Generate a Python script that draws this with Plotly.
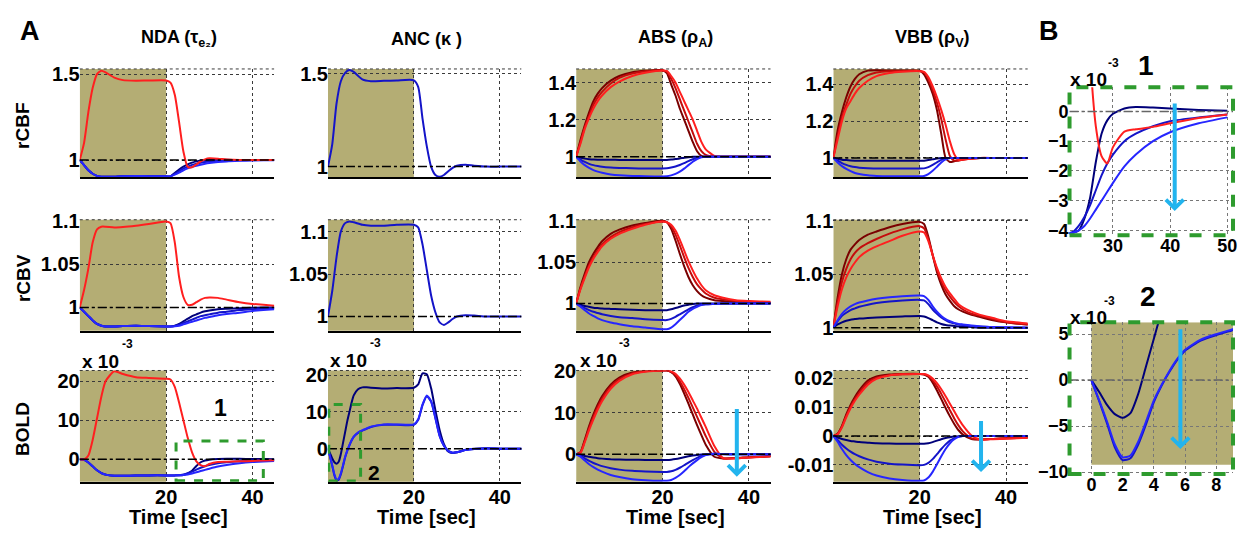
import plotly.graph_objects as go

W, H = 1241, 537

# ---------------- data ----------------
T = [0, 1, 2, 3, 4, 5, 6, 8, 10, 13, 16, 20, 21, 22, 23, 24, 25, 26, 27, 28, 29, 30, 32, 34, 37, 40, 45, 50]
TA = [0, 0.5, 1, 1.5, 2, 2.5, 3, 3.5, 4, 4.5, 5, 5.5, 6, 7, 8, 9, 10, 13, 16, 20, 21, 22, 23, 24, 25, 26, 27, 28, 29, 30, 32, 34, 37, 40, 45, 50]

# NDA
NDA_CBF_RED = [1.0, 1.1, 1.28, 1.42, 1.5, 1.52, 1.51, 1.48, 1.465, 1.462, 1.463, 1.463, 1.45, 1.38, 1.22, 1.05, 0.96, 0.958, 0.975, 0.992, 1.004, 1.01, 1.008, 1.003, 1.0, 1.0, 1.0, 1.0]
NDA_CBF_NAVY = [1.0, 0.97, 0.94, 0.92, 0.908, 0.903, 0.902, 0.903, 0.906, 0.907, 0.906, 0.905, 0.905, 0.925, 0.945, 0.962, 0.975, 0.985, 0.992, 0.997, 1.0, 1.002, 1.002, 1.001, 1.0, 1.0, 1.0, 1.0]
NDA_CBF_MED = [1.0, 0.97, 0.94, 0.92, 0.908, 0.903, 0.902, 0.903, 0.906, 0.907, 0.906, 0.905, 0.905, 0.92, 0.935, 0.95, 0.962, 0.972, 0.979, 0.984, 0.988, 0.991, 0.995, 0.997, 0.999, 1.0, 1.0, 1.0]
NDA_CBF_BLUE = [1.0, 0.97, 0.94, 0.92, 0.908, 0.903, 0.902, 0.903, 0.906, 0.907, 0.906, 0.905, 0.905, 0.915, 0.927, 0.94, 0.951, 0.96, 0.967, 0.973, 0.978, 0.982, 0.988, 0.992, 0.995, 0.997, 0.999, 1.0]

NDA_CBV_RED = [1.0, 1.02, 1.045, 1.075, 1.09, 1.093, 1.093, 1.092, 1.0925, 1.094, 1.096, 1.099, 1.097, 1.075, 1.035, 1.012, 1.003, 1.003, 1.006, 1.009, 1.011, 1.0115, 1.011, 1.009, 1.006, 1.004, 1.002, 1.001]
NDA_CBV_NAVY = [1.0, 0.995, 0.99, 0.985, 0.981, 0.979, 0.978, 0.978, 0.9785, 0.979, 0.9785, 0.978, 0.978, 0.979, 0.981, 0.984, 0.987, 0.99, 0.992, 0.994, 0.9955, 0.9965, 0.998, 0.9985, 0.999, 0.9995, 1.0, 1.0]
NDA_CBV_MED = [1.0, 0.995, 0.99, 0.985, 0.981, 0.979, 0.978, 0.978, 0.9785, 0.979, 0.9785, 0.978, 0.978, 0.9785, 0.98, 0.982, 0.984, 0.986, 0.988, 0.99, 0.991, 0.992, 0.994, 0.995, 0.997, 0.998, 0.999, 1.0]
NDA_CBV_BLUE = [1.0, 0.995, 0.99, 0.985, 0.981, 0.979, 0.978, 0.978, 0.9785, 0.979, 0.9785, 0.978, 0.978, 0.9783, 0.979, 0.9805, 0.982, 0.9835, 0.985, 0.9865, 0.988, 0.989, 0.991, 0.9925, 0.994, 0.996, 0.998, 0.999]

NDA_BOLD_RED = [0, 0, 1, 5, 10.5, 16, 20, 22.5, 21.8, 21, 20.8, 20.6, 20.4, 18.5, 14.5, 10, 5.5, 1.8, -0.5, -1.5, -1.75, -1.2, -0.68, -0.6, -0.52, -0.4, -0.22, -0.1]
NDA_BOLD_NAVY = [0, -0.1, -0.8, -1.8, -2.8, -3.5, -3.9, -4.2, -4.2, -4.15, -4.1, -4.1, -4.1, -4.1, -4.08, -4.0, -3.6, -2.9, -1.7, -0.75, -0.3, -0.08, 0.1, 0.15, 0.13, 0.1, 0.05, 0.02]
NDA_BOLD_MED = [0, -0.1, -0.8, -1.8, -2.8, -3.5, -3.9, -4.2, -4.2, -4.15, -4.1, -4.1, -4.1, -4.1, -4.05, -3.85, -3.55, -3.15, -2.65, -2.15, -1.75, -1.45, -1.0, -0.75, -0.5, -0.33, -0.2, -0.1]
NDA_BOLD_BLUE = [0, -0.1, -0.8, -1.8, -2.8, -3.5, -3.9, -4.2, -4.2, -4.15, -4.1, -4.1, -4.1, -4.1, -4.08, -4.0, -3.85, -3.6, -3.3, -3.0, -2.7, -2.4, -1.85, -1.45, -1.0, -0.7, -0.4, -0.2]

# ANC
ANC_CBF_BLUE = [1.0, 1.12, 1.34, 1.46, 1.505, 1.52, 1.51, 1.47, 1.46, 1.462, 1.464, 1.465, 1.43, 1.26, 1.11, 1.0, 0.955, 0.945, 0.955, 0.975, 0.993, 1.005, 1.01, 1.005, 1.0, 1.0, 1.0, 1.0]
ANC_CBV_BLUE = [1.0, 1.03, 1.07, 1.1, 1.11, 1.112, 1.111, 1.108, 1.107, 1.107, 1.108, 1.108, 1.105, 1.085, 1.055, 1.025, 1.005, 0.993, 0.99, 0.993, 0.997, 1.0, 1.0015, 1.001, 1.0, 1.0, 1.0, 1.0]
ANC_BOLD_NAVY = [0, -1.3, -2.7, -3.7, -4.1, -3.6, -1.5, 1.5, 4.5, 7.5, 10, 12.5, 14.5, 16.2, 16.7, 16.7, 16.6, 16.4, 16.5, 16.6, 17.5, 20.5, 20.3, 16.5, 10.5, 5, 1.2, -0.8, -1.2, -1.0, -0.3, 0, 0.1, 0, 0, 0]
ANC_BOLD_MED = [0, -2.3, -4.7, -7.3, -8.7, -8.5, -7.0, -4.8, -2.4, -0.6, 0.9, 2.2, 3.2, 4.3, 4.9, 5.4, 5.9, 6.5, 6.5, 6.5, 7.8, 11.8, 14.3, 12.8, 8.3, 3.4, 0.7, -0.6, -1.1, -1.0, -0.4, -0.1, 0.05, 0, 0, 0]
ANC_BOLD_BLUE = [0, -2.2, -4.5, -7, -8.4, -8.2, -6.7, -4.5, -2.2, -0.5, 1.0, 2.3, 3.3, 4.4, 5.0, 5.5, 6.0, 6.6, 6.6, 6.6, 8, 12, 14.5, 13, 8.5, 3.5, 0.8, -0.6, -1.1, -1.0, -0.4, -0.1, 0.05, 0, 0, 0]

# ABS
ABS_CBF_DRED = [1.0, 1.09, 1.17, 1.24, 1.3, 1.34, 1.37, 1.41, 1.435, 1.455, 1.463, 1.466, 1.45, 1.39, 1.33, 1.26, 1.2, 1.14, 1.08, 1.03, 1.005, 1.0, 1.0, 1.0, 1.0, 1.0, 1.0, 1.0]
ABS_CBF_MRED = [1.0, 1.08, 1.16, 1.22, 1.28, 1.32, 1.35, 1.395, 1.425, 1.448, 1.46, 1.466, 1.458, 1.42, 1.37, 1.31, 1.25, 1.19, 1.13, 1.07, 1.03, 1.01, 1.0, 1.0, 1.0, 1.0, 1.0, 1.0]
ABS_CBF_RED = [1.0, 1.07, 1.15, 1.21, 1.26, 1.3, 1.33, 1.375, 1.405, 1.435, 1.452, 1.465, 1.462, 1.435, 1.4, 1.35, 1.3, 1.25, 1.2, 1.14, 1.08, 1.04, 1.005, 1.0, 1.0, 1.0, 1.0, 1.0]
ABS_CBF_NAVY = [1.0, 0.995, 0.99, 0.987, 0.985, 0.984, 0.984, 0.984, 0.983, 0.983, 0.983, 0.983, 0.983, 0.985, 0.988, 0.991, 0.995, 0.998, 1.0, 1.0, 1.0, 1.0, 1.0, 1.0, 1.0, 1.0, 1.0, 1.0]
ABS_CBF_MED = [1.0, 0.985, 0.972, 0.962, 0.955, 0.95, 0.946, 0.942, 0.94, 0.938, 0.937, 0.937, 0.938, 0.942, 0.948, 0.956, 0.966, 0.977, 0.987, 0.995, 0.999, 1.0, 1.0, 1.0, 1.0, 1.0, 1.0, 1.0]
ABS_CBF_BLUE = [1.0, 0.975, 0.955, 0.94, 0.928, 0.92, 0.914, 0.905, 0.9, 0.897, 0.895, 0.894, 0.895, 0.9, 0.908, 0.92, 0.936, 0.955, 0.973, 0.988, 0.997, 1.0, 1.0, 1.0, 1.0, 1.0, 1.0, 1.0]

ABS_CBV_DRED = [1.0, 1.02, 1.036, 1.05, 1.06, 1.068, 1.075, 1.084, 1.089, 1.094, 1.097, 1.1, 1.098, 1.09, 1.076, 1.06, 1.045, 1.032, 1.022, 1.015, 1.01, 1.007, 1.004, 1.003, 1.002, 1.002, 1.001, 1.001]
ABS_CBV_MRED = [1.0, 1.018, 1.033, 1.046, 1.056, 1.064, 1.071, 1.08, 1.086, 1.092, 1.096, 1.099, 1.098, 1.093, 1.083, 1.07, 1.056, 1.043, 1.032, 1.023, 1.017, 1.012, 1.007, 1.005, 1.003, 1.002, 1.001, 1.001]
ABS_CBV_RED = [1.0, 1.017, 1.031, 1.044, 1.054, 1.062, 1.069, 1.078, 1.084, 1.09, 1.095, 1.099, 1.098, 1.095, 1.088, 1.077, 1.064, 1.051, 1.04, 1.03, 1.022, 1.016, 1.01, 1.007, 1.004, 1.003, 1.002, 1.001]
ABS_CBV_NAVY = [1.0, 0.9985, 0.997, 0.996, 0.995, 0.9945, 0.994, 0.9935, 0.993, 0.9925, 0.992, 0.992, 0.992, 0.993, 0.9945, 0.996, 0.9975, 0.9985, 0.9995, 1.0, 1.0, 1.0, 1.0, 1.0, 1.0, 1.0, 1.0, 1.0]
ABS_CBV_MED = [1.0, 0.997, 0.9945, 0.992, 0.99, 0.9885, 0.987, 0.985, 0.9835, 0.9825, 0.981, 0.98, 0.98, 0.9815, 0.984, 0.987, 0.99, 0.993, 0.9955, 0.9975, 0.9985, 0.999, 0.9995, 1.0, 1.0, 1.0, 1.0, 1.0]
ABS_CBV_BLUE = [1.0, 0.996, 0.992, 0.988, 0.985, 0.982, 0.98, 0.977, 0.975, 0.9725, 0.971, 0.969, 0.969, 0.971, 0.975, 0.98, 0.985, 0.99, 0.9935, 0.996, 0.998, 0.999, 0.9995, 1.0, 1.0, 1.0, 1.0, 1.0]

ABS_BOLD_DRED = [0, 0.5, 3.5, 6.8, 9.6, 12, 14, 16.8, 18.5, 19.7, 20.1, 20.2, 20.2, 19.8, 18.8, 17.0, 14.7, 12.2, 9.6, 7.0, 4.6, 2.3, -0.6, -1.0, -0.9, -0.7, -0.5, -0.3]
ABS_BOLD_MRED = [0, 0.4, 3.2, 6.3, 9.0, 11.4, 13.4, 16.3, 18.1, 19.5, 20.0, 20.2, 20.2, 19.9, 19.1, 17.6, 15.7, 13.6, 11.3, 9.0, 6.7, 4.4, 0.6, -1.0, -0.95, -0.75, -0.5, -0.3]
ABS_BOLD_RED = [0, 0.3, 2.9, 5.8, 8.4, 10.8, 12.8, 15.8, 17.7, 19.3, 19.9, 20.2, 20.3, 20.0, 19.4, 18.3, 16.8, 15.0, 13.0, 11.0, 8.8, 6.6, 2.0, -0.9, -1.0, -0.8, -0.5, -0.3]
ABS_BOLD_NAVY = [0, -0.15, -0.4, -0.6, -0.8, -0.95, -1.05, -1.2, -1.28, -1.33, -1.36, -1.38, -1.38, -1.3, -1.15, -0.95, -0.72, -0.5, -0.3, -0.15, -0.05, 0, 0, 0, 0, 0, 0, 0]
ABS_BOLD_MED = [0, -0.4, -1.0, -1.6, -2.1, -2.5, -2.85, -3.35, -3.7, -4.0, -4.15, -4.25, -4.25, -4.1, -3.75, -3.25, -2.65, -2.0, -1.4, -0.85, -0.4, -0.1, 0.1, 0.05, 0, 0, 0, 0]
ABS_BOLD_BLUE = [0, -0.6, -1.5, -2.4, -3.1, -3.7, -4.2, -5.0, -5.5, -6.0, -6.25, -6.4, -6.4, -6.2, -5.7, -5.0, -4.1, -3.1, -2.2, -1.4, -0.7, -0.2, 0.1, 0.05, 0, 0, 0, 0]

# VBB
VBB_CBF_DRED = [1.0, 1.15, 1.25, 1.33, 1.39, 1.43, 1.455, 1.475, 1.477, 1.476, 1.475, 1.474, 1.455, 1.41, 1.35, 1.26, 1.13, 1.0, 0.978, 0.982, 0.988, 0.993, 0.998, 1.0, 1.0, 1.0, 1.0, 1.0]
VBB_CBF_MRED = [1.0, 1.12, 1.22, 1.29, 1.35, 1.39, 1.42, 1.45, 1.465, 1.472, 1.473, 1.473, 1.465, 1.43, 1.37, 1.3, 1.21, 1.1, 1.01, 0.985, 0.985, 0.99, 0.997, 1.0, 1.0, 1.0, 1.0, 1.0]
VBB_CBF_RED = [1.0, 1.1, 1.2, 1.27, 1.31, 1.35, 1.38, 1.42, 1.445, 1.462, 1.469, 1.472, 1.468, 1.44, 1.39, 1.33, 1.26, 1.18, 1.09, 1.02, 0.99, 0.99, 0.996, 1.0, 1.0, 1.0, 1.0, 1.0]
VBB_CBF_NAVY = [1.0, 0.995, 0.99, 0.988, 0.986, 0.985, 0.985, 0.985, 0.985, 0.985, 0.985, 0.985, 0.985, 0.988, 0.992, 0.996, 0.999, 1.0, 1.0, 1.0, 1.0, 1.0, 1.0, 1.0, 1.0, 1.0, 1.0, 1.0]
VBB_CBF_MED = [1.0, 0.985, 0.972, 0.962, 0.955, 0.95, 0.947, 0.944, 0.943, 0.942, 0.942, 0.942, 0.943, 0.95, 0.962, 0.976, 0.989, 0.997, 1.0, 1.0, 1.0, 1.0, 1.0, 1.0, 1.0, 1.0, 1.0, 1.0]
VBB_CBF_BLUE = [1.0, 0.975, 0.955, 0.94, 0.928, 0.918, 0.912, 0.905, 0.902, 0.9, 0.9, 0.9, 0.902, 0.912, 0.93, 0.952, 0.975, 0.992, 0.999, 1.0, 1.0, 1.0, 1.0, 1.0, 1.0, 1.0, 1.0, 1.0]

VBB_CBV_DRED = [1.0, 1.028, 1.05, 1.064, 1.073, 1.078, 1.082, 1.087, 1.09, 1.094, 1.097, 1.099, 1.097, 1.085, 1.068, 1.052, 1.04, 1.031, 1.025, 1.02, 1.017, 1.015, 1.012, 1.01, 1.007, 1.005, 1.003, 1.002]
VBB_CBV_MRED = [1.0, 1.024, 1.043, 1.055, 1.064, 1.07, 1.074, 1.079, 1.083, 1.088, 1.092, 1.095, 1.093, 1.083, 1.068, 1.054, 1.043, 1.035, 1.029, 1.024, 1.02, 1.017, 1.013, 1.011, 1.008, 1.005, 1.003, 1.002]
VBB_CBV_RED = [1.0, 1.02, 1.036, 1.047, 1.055, 1.061, 1.066, 1.072, 1.076, 1.081, 1.086, 1.09, 1.089, 1.081, 1.068, 1.056, 1.046, 1.038, 1.032, 1.027, 1.022, 1.019, 1.015, 1.012, 1.009, 1.006, 1.004, 1.002]
VBB_CBV_NAVY = [1.0, 1.003, 1.005, 1.0065, 1.0075, 1.008, 1.0085, 1.009, 1.0095, 1.01, 1.0105, 1.011, 1.0105, 1.009, 1.007, 1.005, 1.0035, 1.0025, 1.002, 1.0015, 1.0012, 1.001, 1.0005, 1.0, 1.0, 1.0, 1.0, 1.0]
VBB_CBV_MED = [1.0, 1.006, 1.011, 1.014, 1.0165, 1.018, 1.0195, 1.0215, 1.023, 1.0245, 1.0255, 1.026, 1.0255, 1.022, 1.017, 1.013, 1.0095, 1.007, 1.005, 1.004, 1.003, 1.0025, 1.0015, 1.001, 1.0005, 1.0, 1.0, 1.0]
VBB_CBV_BLUE = [1.0, 1.007, 1.013, 1.017, 1.02, 1.022, 1.0235, 1.0255, 1.027, 1.0285, 1.0295, 1.03, 1.0295, 1.026, 1.02, 1.015, 1.011, 1.008, 1.006, 1.0045, 1.0035, 1.003, 1.002, 1.0012, 1.0006, 1.0003, 1.0, 1.0]

VBB_BOLD_DRED = [0, 0.0008, 0.0035, 0.0075, 0.0108, 0.0135, 0.0158, 0.0192, 0.0206, 0.0213, 0.0215, 0.0215, 0.0213, 0.0205, 0.0185, 0.0158, 0.0128, 0.0097, 0.0068, 0.0042, 0.002, 0.0005, -0.001, -0.0012, -0.001, -0.0008, -0.0005, -0.0003]
VBB_BOLD_MRED = [0, 0.0007, 0.0032, 0.007, 0.0102, 0.0128, 0.015, 0.0185, 0.0202, 0.0211, 0.0214, 0.0215, 0.0214, 0.0208, 0.0193, 0.0172, 0.0146, 0.0118, 0.0089, 0.0061, 0.0036, 0.0016, -0.0008, -0.0012, -0.001, -0.0008, -0.0005, -0.0003]
VBB_BOLD_RED = [0, 0.0006, 0.003, 0.0065, 0.0096, 0.0122, 0.0143, 0.0178, 0.0198, 0.021, 0.0214, 0.0215, 0.0215, 0.021, 0.0199, 0.0183, 0.0162, 0.0138, 0.0112, 0.0086, 0.006, 0.0037, 0.0002, -0.0012, -0.0011, -0.0009, -0.0006, -0.0003]
VBB_BOLD_NAVY = [0, -0.0005, -0.001, -0.0014, -0.0017, -0.0019, -0.0021, -0.0023, -0.0025, -0.0026, -0.0027, -0.0027, -0.0027, -0.0025, -0.0021, -0.0016, -0.0011, -0.0007, -0.0004, -0.0002, -0.0001, 0, 0, 0, 0, 0, 0, 0]
VBB_BOLD_MED = [0, -0.0014, -0.003, -0.0043, -0.0054, -0.0063, -0.007, -0.0081, -0.0089, -0.0096, -0.0099, -0.0101, -0.01, -0.0093, -0.008, -0.0063, -0.0045, -0.0029, -0.0016, -0.0007, -0.0002, 0, 0, 0, 0, 0, 0, 0]
VBB_BOLD_BLUE = [0, -0.002, -0.0045, -0.0066, -0.0083, -0.0097, -0.0108, -0.0125, -0.0137, -0.0147, -0.0152, -0.0155, -0.0154, -0.0144, -0.0124, -0.0098, -0.007, -0.0045, -0.0025, -0.0011, -0.0003, 0, 0, 0, 0, 0, 0, 0]

COL_TITLES = ["NDA (τ<sub>e₂</sub>)", "ANC (κ )", "ABS (ρ<sub>A</sub>)", "VBB (ρ<sub>V</sub>)"]
ROW_TITLES = ["rCBF", "rCBV", "BOLD"]
B1_XTICKS = [30, 40, 50]
B1_YTICKS = [-4, -3, -2, -1, 0]
B2_XTICKS = [0, 2, 4, 6, 8]
B2_YTICKS = [-10, -5, 0, 5]

# ---------------- style ----------------
FONT = "Liberation Sans, Arial, sans-serif"
DRED, MRED, RED = "#7a0000", "#c40c0c", "#ff1f1f"
NAVY, MED, BLUE = "#00007a", "#1414c8", "#2626ff"
SHADE = "#b4ad74"
GREEN = "#2e9b2e"
CYAN = "#22b4ee"
GRID = "#3a3a3a"

cols_px = [(80, 275), (329, 523), (578, 773), (836, 1031)]
rows_px = [(61, 173), (217, 332), (373, 488)]


def xd(a, b):
    return [a / W, b / W]


def yd(a, b):
    return [1 - b / H, 1 - a / H]


fig = go.Figure()
layout = dict(width=W, height=H, margin=dict(l=0, r=0, t=0, b=0), autosize=False,
              paper_bgcolor="white", plot_bgcolor="white", showlegend=False,
              font=dict(family=FONT, color="black"))
shapes, annots = [], []

yranges = [[0.9, 1.53], [0.943, 1.526], [0.89, 1.473], [0.895, 1.484],
           [0.973, 1.101], [0.983, 1.114], [0.967, 1.101], [0.997, 1.101],
           [-5.7, 22.7], [-9.0, 21.3], [-6.6, 20.2], [-0.0158, 0.0227]]
yticks = [([1, 1.5], ["1", "1.5"]), ([1, 1.5], ["1", "1.5"]),
          ([1, 1.2, 1.4], ["1", "1.2", "1.4"]), ([1, 1.2, 1.4], ["1", "1.2", "1.4"]),
          ([1, 1.05, 1.1], ["1", "1.05", "1.1"]), ([1, 1.05, 1.1], ["1", "1.05", "1.1"]),
          ([1, 1.05, 1.1], ["1", "1.05", "1.1"]), ([1, 1.05, 1.1], ["1", "1.05", "1.1"]),
          ([0, 10, 20], ["0", "10", "20"]), ([0, 10, 20], ["0", "10", "20"]),
          ([0, 10, 20], ["0", "10", "20"]),
          ([-0.01, 0, 0.01, 0.02], ["-0.01", "0", "0.01", "0.02"])]
baselines = [1, 1, 1, 1, 1, 1, 1, 1, 0, 0, 0, 0]

series = {
    1: [(T, NDA_CBF_NAVY, NAVY), (T, NDA_CBF_MED, MED), (T, NDA_CBF_BLUE, BLUE), (T, NDA_CBF_RED, RED)],
    2: [(T, ANC_CBF_BLUE, MED)],
    3: [(T, ABS_CBF_DRED, DRED), (T, ABS_CBF_MRED, MRED), (T, ABS_CBF_RED, RED),
        (T, ABS_CBF_NAVY, NAVY), (T, ABS_CBF_MED, MED), (T, ABS_CBF_BLUE, BLUE)],
    4: [(T, VBB_CBF_DRED, DRED), (T, VBB_CBF_MRED, MRED), (T, VBB_CBF_RED, RED),
        (T, VBB_CBF_NAVY, NAVY), (T, VBB_CBF_MED, MED), (T, VBB_CBF_BLUE, BLUE)],
    5: [(T, NDA_CBV_NAVY, NAVY), (T, NDA_CBV_MED, MED), (T, NDA_CBV_BLUE, BLUE), (T, NDA_CBV_RED, RED)],
    6: [(T, ANC_CBV_BLUE, MED)],
    7: [(T, ABS_CBV_DRED, DRED), (T, ABS_CBV_MRED, MRED), (T, ABS_CBV_RED, RED),
        (T, ABS_CBV_NAVY, NAVY), (T, ABS_CBV_MED, MED), (T, ABS_CBV_BLUE, BLUE)],
    8: [(T, VBB_CBV_DRED, DRED), (T, VBB_CBV_MRED, MRED), (T, VBB_CBV_RED, RED),
        (T, VBB_CBV_NAVY, NAVY), (T, VBB_CBV_MED, MED), (T, VBB_CBV_BLUE, BLUE)],
    9: [(T, NDA_BOLD_NAVY, NAVY), (T, NDA_BOLD_MED, MED), (T, NDA_BOLD_BLUE, BLUE), (T, NDA_BOLD_RED, RED)],
    10: [(TA, ANC_BOLD_NAVY, NAVY), (TA, ANC_BOLD_MED, MED), (TA, ANC_BOLD_BLUE, BLUE)],
    11: [(T, ABS_BOLD_DRED, DRED), (T, ABS_BOLD_MRED, MRED), (T, ABS_BOLD_RED, RED),
         (T, ABS_BOLD_NAVY, NAVY), (T, ABS_BOLD_MED, MED), (T, ABS_BOLD_BLUE, BLUE)],
    12: [(T, VBB_BOLD_DRED, DRED), (T, VBB_BOLD_MRED, MRED), (T, VBB_BOLD_RED, RED),
         (T, VBB_BOLD_NAVY, NAVY), (T, VBB_BOLD_MED, MED), (T, VBB_BOLD_BLUE, BLUE)],
    13: [(T, NDA_BOLD_NAVY, NAVY), (T, NDA_BOLD_MED, MED), (T, NDA_BOLD_BLUE, BLUE), (T, NDA_BOLD_RED, RED)],
    14: [(TA, ANC_BOLD_NAVY, NAVY), (TA, ANC_BOLD_MED, MED), (TA, ANC_BOLD_BLUE, BLUE)],
}

TICKFONT = dict(family=FONT, size=20, color="black", weight="bold")


def axname(k):
    return "" if k == 1 else str(k)


for k in range(1, 13):
    r, c = (k - 1) // 4, (k - 1) % 4
    xs = axname(k)
    bottom = (r == 2)
    layout["xaxis" + xs] = dict(
        domain=xd(*cols_px[c]), range=[0, 45], anchor="y" + xs,
        tickvals=[0, 20, 40], ticktext=["", "20", "40"], showticklabels=bottom,
        showgrid=True, gridcolor=GRID, griddash="dot", gridwidth=1,
        zeroline=False, showline=True, linecolor="black", linewidth=2,
        ticks="", tickfont=TICKFONT, ticklabelstandoff=-4)
    tv, tt = yticks[k - 1]
    layout["yaxis" + xs] = dict(
        domain=yd(*rows_px[r]), range=yranges[k - 1], anchor="x" + xs,
        tickvals=tv, ticktext=tt, showgrid=True, gridcolor=GRID, griddash="dot",
        gridwidth=1, zeroline=False, showline=False, ticks="", tickfont=TICKFONT,
        ticklabelstandoff=-1)
    shapes.append(dict(type="rect", xref="x" + xs, yref="y" + xs + " domain", x0=0, x1=20, y0=0, y1=1,
                       fillcolor=SHADE, line=dict(width=0), layer="below"))
    shapes.append(dict(type="line", xref="x" + xs + " domain", yref="y" + xs + " domain", x0=0, x1=1, y0=1, y1=1,
                       line=dict(color=GRID, width=1, dash="dot"), layer="below"))
    shapes.append(dict(type="line", xref="x" + xs + " domain", yref="y" + xs, x0=0, x1=1,
                       y0=baselines[k - 1], y1=baselines[k - 1],
                       line=dict(color="black", width=1.5, dash="dashdot"), layer="above"))

# panel B
BTICK = dict(family=FONT, size=18, color="black", weight="bold")
layout["xaxis13"] = dict(domain=xd(1073, 1237), range=[22.4, 51.0], anchor="y13",
                         tickvals=B1_XTICKS, showgrid=True, gridcolor="#777", griddash="dot",
                         zeroline=False, showline=False, ticks="", tickfont=BTICK,
                         ticklabelstandoff=-2, ticklabeloverflow="allow")
layout["yaxis13"] = dict(domain=yd(80, 233), range=[-4.16, 0.81], anchor="x13",
                         tickvals=B1_YTICKS, showgrid=True, gridcolor="#777", griddash="dot",
                         zeroline=False, showline=False, ticks="", tickfont=BTICK)
layout["xaxis14"] = dict(domain=xd(1073, 1237), range=[-1.4, 9.07], anchor="y14",
                         tickvals=B2_XTICKS, showgrid=True, gridcolor="#777", griddash="dot",
                         zeroline=False, showline=False, ticks="", tickfont=BTICK,
                         ticklabelstandoff=-2, ticklabeloverflow="allow")
layout["yaxis14"] = dict(domain=yd(323, 480), range=[-10.2, 6.3], anchor="x14",
                         tickvals=B2_YTICKS, showgrid=True, gridcolor="#777", griddash="dot",
                         zeroline=False, showline=False, ticks="", tickfont=BTICK)
shapes.append(dict(type="rect", xref="x14", yref="y14", x0=0, x1=9.07, y0=-9.2, y1=6.3,
                   fillcolor=SHADE, line=dict(width=0), layer="below"))
for k in (13, 14):
    shapes.append(dict(type="line", xref="x%d domain" % k, yref="y%d" % k, x0=0, x1=1, y0=0, y1=0,
                       line=dict(color="#666", width=1.5, dash="dashdot"), layer="above"))
    shapes.append(dict(type="rect", xref="x%d domain" % k, yref="y%d domain" % k, x0=0, x1=1, y0=0, y1=1,
                       line=dict(color=GREEN, width=4, dash="dash"), layer="above"))

# green dashed boxes inside A
shapes.append(dict(type="rect", xref="x9", yref="y9", x0=22.3, x1=42.5, y0=-5.5, y1=4.7,
                   line=dict(color=GREEN, width=3, dash="dash"), layer="above"))
shapes.append(dict(type="rect", xref="x10", yref="y10", x0=0.2, x1=7.6, y0=-8.8, y1=12,
                   line=dict(color=GREEN, width=3, dash="dash"), layer="above"))

# traces
for k, lst in series.items():
    xs = axname(k)
    for tx, ty, col in lst:
        fig.add_trace(go.Scatter(x=tx, y=ty, mode="lines", xaxis="x" + xs, yaxis="y" + xs,
                                 line=dict(color=col, width=2, shape="spline", smoothing=0.6),
                                 hoverinfo="skip"))

# arrows
for k, xa, y0, y1 in [(11, 37.2, 11.3, -5.4), (12, 34.2, 0.0057, -0.0125), (13, 40.8, 0.32, -3.35), (14, 5.7, 5.7, -7.5)]:
    annots.append(dict(x=xa, y=y1, ax=xa, ay=y0, xref="x%d" % k, yref="y%d" % k,
                       axref="x%d" % k, ayref="y%d" % k, showarrow=True, arrowhead=4,
                       arrowsize=0.85, arrowwidth=4, arrowcolor=CYAN, text=""))


def txt(x, y, s, size, bold=True, **kw):
    d = dict(x=x / W, y=1 - y / H, xref="paper", yref="paper", text=("<b>%s</b>" % s) if bold else s,
             showarrow=False, font=dict(family=FONT, size=size, color="black"),
             xanchor="center", yanchor="middle")
    d.update(kw)
    annots.append(d)


txt(30, 22, "A", 27)
txt(1052, 22, "B", 27)
for (a, b), s in zip(cols_px, COL_TITLES):
    txt((a + b) / 2 + 2, 30, s, 18)
for (a, b), s in zip(rows_px, ROW_TITLES):
    txt(23, (a + b) / 2 + 3, s, 19, textangle=-90)
for (a, b) in cols_px:
    txt((a + b) / 2 + 2, 537, "Time [sec]", 20, yanchor="bottom", borderpad=0)
for xc, xe, yc, ye in [(101, 128, 364, 346), (350, 377, 363, 345), (600, 627, 363, 345),
                       (1092, 1117, 72, 55), (1092, 1113, 318, 301)]:
    txt(xc, yc, "x 10", 19)
    txt(xe, ye, "-3", 12)
txt(1150, 57, "1", 28)
txt(1152, 296, "2", 28)
annots.append(dict(x=32.6, y=13, xref="x9", yref="y9", text="<b>1</b>", showarrow=False,
                   font=dict(family=FONT, size=23, color="black")))
annots.append(dict(x=10.7, y=-6.4, xref="x10", yref="y10", text="<b>2</b>", showarrow=False,
                   font=dict(family=FONT, size=21, color="black")))

layout["shapes"] = shapes
layout["annotations"] = annots
fig.update_layout(**layout)

PAGE_CSS = ("var s=document.createElement('style');"
            "s.textContent='html,body{margin:0;padding:0;overflow:hidden;width:1241px;height:537px}';"
            "document.head.appendChild(s);")
fig.write_html("out.html", config={"displayModeBar": False}, post_script=PAGE_CSS)
